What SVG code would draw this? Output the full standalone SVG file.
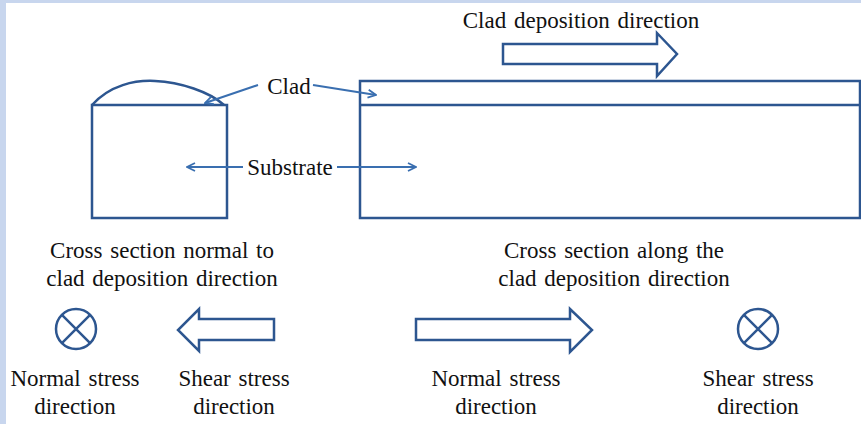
<svg xmlns="http://www.w3.org/2000/svg" width="861" height="424" viewBox="0 0 861 424">
<defs>
<style>
.t{font-family:"Liberation Serif","Times New Roman",serif;font-size:23px;fill:#111;text-anchor:middle;word-spacing:2px}
.box{fill:none;stroke:#2d5690;stroke-width:2.5}
.ld{fill:none;stroke:#3a6fb0;stroke-width:2}
.bar{fill:#fff;stroke:#2d5690;stroke-width:2.5;stroke-linejoin:miter}
</style>
<marker id="ah" viewBox="0 0 10 10" refX="9" refY="5" markerWidth="10" markerHeight="10" orient="auto" markerUnits="userSpaceOnUse">
<path d="M1,1 L9,5 L1,9" fill="none" stroke="#3a6fb0" stroke-width="1.8"/>
</marker>
</defs>
<rect x="0" y="0" width="861" height="424" fill="#fff"/>
<rect x="0" y="0" width="861" height="3" fill="#c8d6ee"/>
<rect x="0" y="0" width="6" height="424" fill="#c8d6ee"/>

<g id="top-label"><text class="t" x="581" y="28">Clad deposition direction</text></g>
<g id="top-arrow"><path class="bar" d="M503,44 H657 V33 L677,54 L657,76 V64 H503 Z"/></g>

<g id="left-section">
<rect class="box" x="92" y="105" width="135" height="113"/>
<path class="box" d="M92,105 C110,85 135,80 155,81 C180,82 210,92 224,105"/>
</g>
<g id="right-section">
<rect class="box" x="360" y="81" width="500" height="137"/>
<line class="box" x1="360" y1="105" x2="860" y2="105"/>
</g>

<g id="clad-label"><text class="t" x="289" y="94">Clad</text></g>
<g id="substrate-label"><text class="t" x="290" y="175">Substrate</text></g>

<g id="connectors">
<line class="ld" x1="258" y1="85" x2="205" y2="103" marker-end="url(#ah)"/>
<line class="ld" x1="313" y1="85" x2="376" y2="95" marker-end="url(#ah)"/>
<line class="ld" x1="243" y1="167" x2="187" y2="167" marker-end="url(#ah)"/>
<line class="ld" x1="337" y1="167" x2="416" y2="167" marker-end="url(#ah)"/>
</g>

<g id="caption-left"><text class="t" x="162" y="258">Cross section normal to</text><text class="t" x="162" y="286">clad deposition direction</text></g>
<g id="caption-right"><text class="t" x="614" y="258">Cross section along the</text><text class="t" x="614" y="286">clad deposition direction</text></g>

<g id="normal-left">
<circle class="box" cx="76" cy="329" r="20"/>
<path class="box" d="M61.9,314.9 L90.1,343.1 M90.1,314.9 L61.9,343.1"/>
<text class="t" x="75" y="386">Normal stress</text><text class="t" x="75" y="414">direction</text>
</g>
<g id="shear-left">
<path class="bar" d="M274,319 H199 V309 L178,330 L199,351 V340 H274 Z"/>
<text class="t" x="234" y="386">Shear stress</text><text class="t" x="234" y="414">direction</text>
</g>
<g id="normal-right">
<path class="bar" d="M416,319 H570 V309 L592,330 L570,352 V340 H416 Z"/>
<text class="t" x="496" y="386">Normal stress</text><text class="t" x="496" y="414">direction</text>
</g>
<g id="shear-right">
<circle class="box" cx="758" cy="329" r="20"/>
<path class="box" d="M743.9,314.9 L772.1,343.1 M772.1,314.9 L743.9,343.1"/>
<text class="t" x="758" y="386">Shear stress</text><text class="t" x="758" y="414">direction</text>
</g>
</svg>
